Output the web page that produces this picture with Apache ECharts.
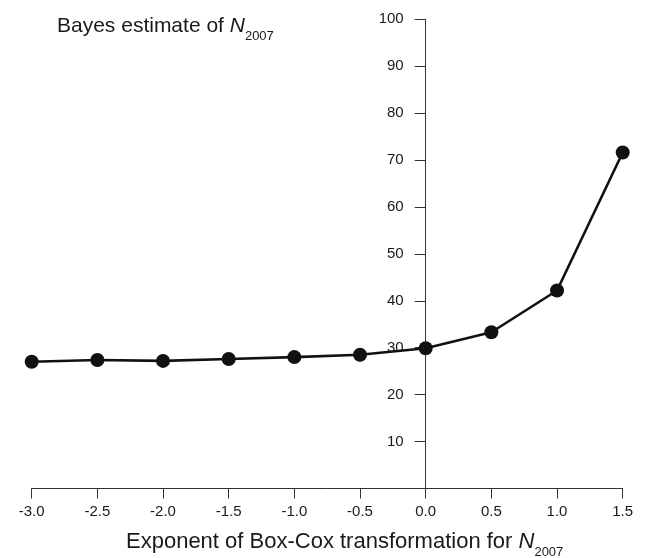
<!DOCTYPE html>
<html>
<head>
<meta charset="utf-8">
<script src="https://cdn.jsdelivr.net/npm/echarts@6/dist/echarts.min.js"></script>
<style>
    html, body { margin: 0; padding: 0; background: #fff; }
    #chart { width: 646px; height: 558px; }
</style>
</head>
<body>
<div id="chart"></div>
<script>
// Box-Cox 指数
var exponents = [-3.0, -2.5, -2.0, -1.5, -1.0, -0.5, 0.0, 0.5, 1.0, 1.5];
// N2007 的贝叶斯估计
var estimates = [27.0, 27.4, 27.2, 27.6, 28.0, 28.5, 29.9, 33.3, 42.2, 71.6];
var yTicks = [10, 20, 30, 40, 50, 60, 70, 80, 90, 100];

var points = [];
for (var i = 0; i < exponents.length; i++) {
    points.push([exponents[i], estimates[i]]);
}

var font = 'Liberation Sans, Arial, sans-serif';
var ink = '#1a1a1a';

var gridLeft = 31.7;
var zeroX = 425.7; // y 轴所在位置 (x = 0)

var myChart = echarts.init(document.getElementById('chart'));
var option = {
    backgroundColor: '#fff',
    animation: false,
    title: [{
        left: 52,
        top: 11,
        text: '{a|Bayes estimate of }{n|N}{s|2007}',
        textStyle: {
            rich: {
                a: { fontFamily: font, fontSize: 21, fontWeight: 'normal', lineHeight: 23, color: ink, verticalAlign: 'top' },
                n: { fontFamily: font, fontSize: 21, fontWeight: 'normal', lineHeight: 23, color: ink, fontStyle: 'italic', verticalAlign: 'top' },
                s: { fontFamily: font, fontSize: 13, fontWeight: 'normal', lineHeight: 14, color: ink, padding: [14, 0, 0, 0], verticalAlign: 'top' }
            }
        }
    }, {
        left: 121,
        top: 526,
        text: '{a|Exponent of Box-Cox transformation for }{n|N}{s|2007}',
        textStyle: {
            rich: {
                a: { fontFamily: font, fontSize: 22, fontWeight: 'normal', lineHeight: 24, color: ink, verticalAlign: 'top' },
                n: { fontFamily: font, fontSize: 22, fontWeight: 'normal', lineHeight: 24, color: ink, fontStyle: 'italic', verticalAlign: 'top' },
                s: { fontFamily: font, fontSize: 13, fontWeight: 'normal', lineHeight: 14, color: ink, padding: [15, 0, 0, 0], verticalAlign: 'top' }
            }
        }
    }],
    grid: {
        left: gridLeft,
        right: 23.3,
        top: 19.3,
        bottom: 69.5,
        containLabel: false,
        outerBoundsMode: 'none'
    },
    xAxis: {
        type: 'value',
        min: -3,
        max: 1.5,
        interval: 0.5,
        splitLine: { show: false },
        axisLine: { show: true, onZero: false, lineStyle: { color: '#333', width: 1 } },
        axisTick: { show: true, length: 10, lineStyle: { color: '#333', width: 1 } },
        axisLabel: {
            margin: 16,
            fontFamily: font,
            fontSize: 15,
            color: ink,
            formatter: function (v) { return v.toFixed(1); }
        }
    },
    yAxis: {
        type: 'value',
        min: 0,
        max: 100,
        interval: 10,
        offset: -(zeroX - gridLeft),
        splitLine: { show: false },
        axisLine: { show: true, onZero: false, lineStyle: { color: '#333', width: 1 } },
        axisTick: { show: true, length: 11, lineStyle: { color: '#333', width: 1 } },
        axisLabel: {
            margin: 22,
            fontFamily: font,
            fontSize: 15,
            color: ink,
            formatter: function (v) { return yTicks.indexOf(v) >= 0 ? String(v) : ''; }
        }
    },
    series: [{
        type: 'line',
        data: points,
        symbol: 'circle',
        symbolSize: 14,
        lineStyle: { color: '#111', width: 2.6 },
        itemStyle: { color: '#111' },
        z: 5
    }]
};
myChart.setOption(option);
</script>
</body>
</html>
